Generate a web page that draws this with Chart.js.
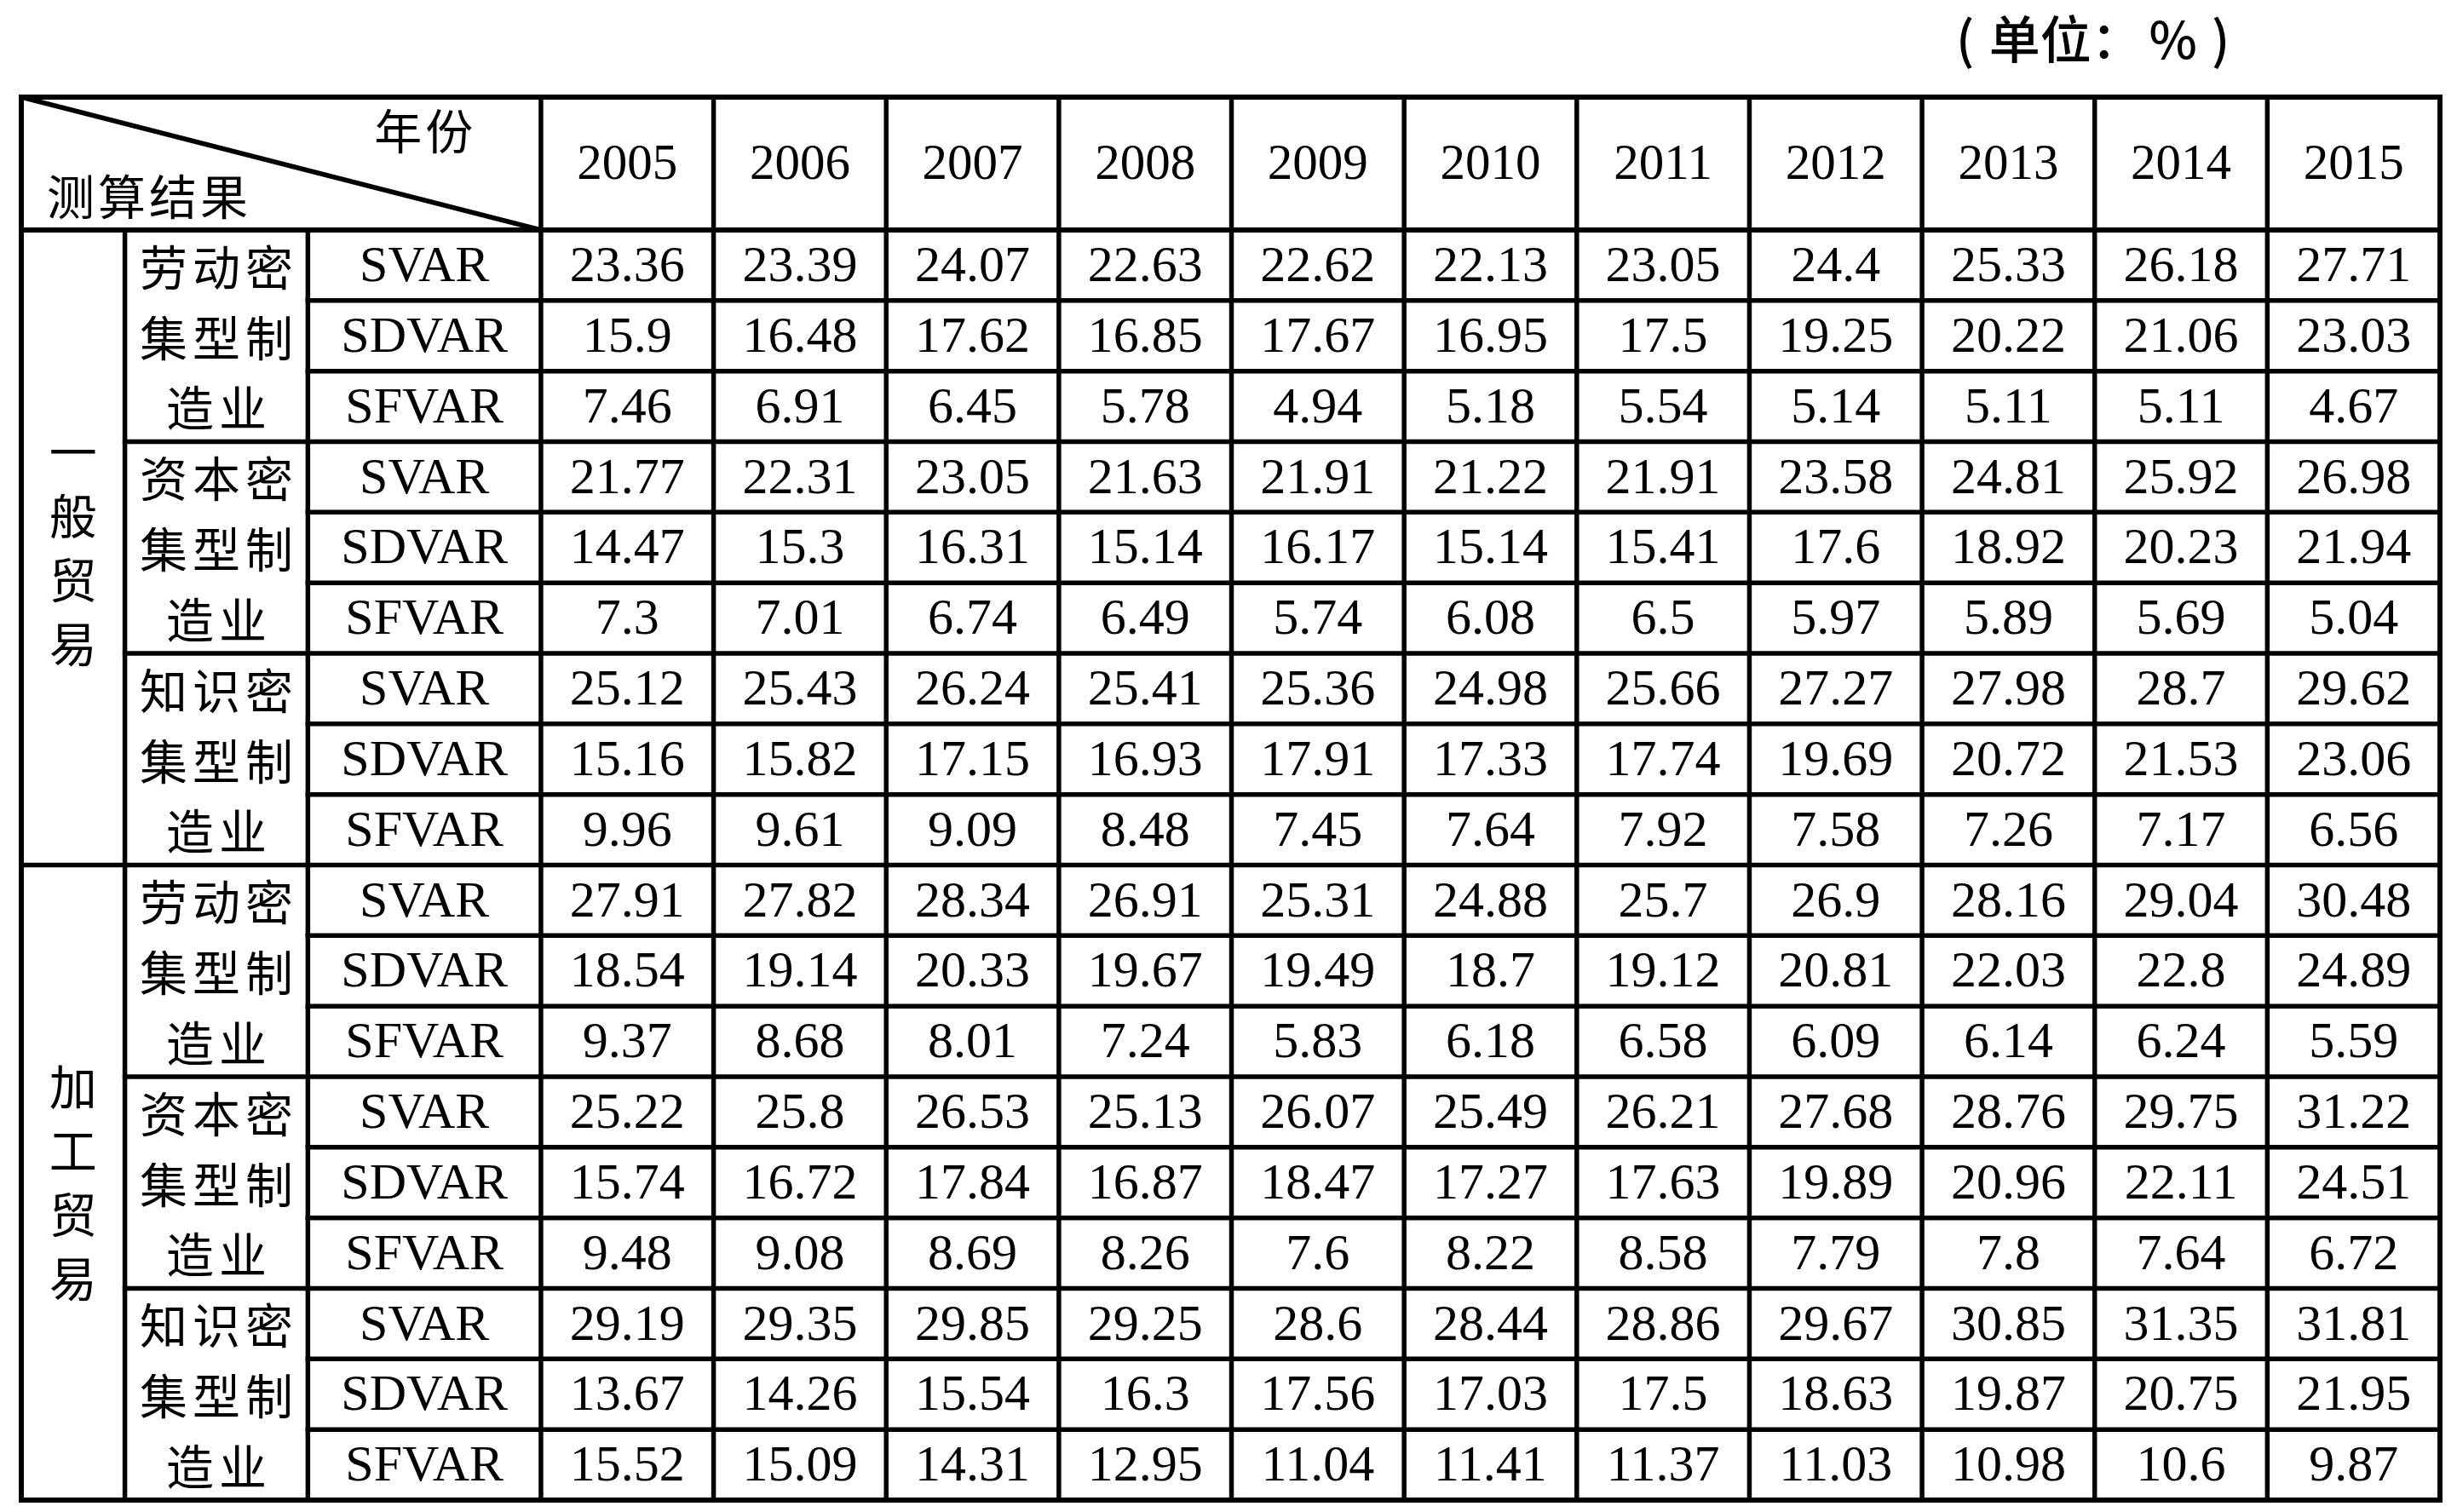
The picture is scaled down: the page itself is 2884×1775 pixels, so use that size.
<!DOCTYPE html>
<html>
<head>
<meta charset="utf-8">
<script src="https://cdn.jsdelivr.net/npm/chart.js@4.4.0/dist/chart.umd.min.js"></script>
<style>
  html, body { margin: 0; padding: 0; background: #fff; }
  canvas { display: block; }
</style>
</head>
<body>
<canvas id="myTable" width="2884" height="1775" style="width:2884px;height:1775px"></canvas>
<script>
// 数据
var years = [2005, 2006, 2007, 2008, 2009, 2010, 2011, 2012, 2013, 2014, 2015];
var trades = ['一般贸易', '加工贸易'];
var industries = ['劳动密集型制造业', '资本密集型制造业', '知识密集型制造业'];
var measures = ['SVAR', 'SDVAR', 'SFVAR'];

// 一般贸易
var genLabourSVAR   = [23.36, 23.39, 24.07, 22.63, 22.62, 22.13, 23.05, 24.4, 25.33, 26.18, 27.71];
var genLabourSDVAR  = [15.9, 16.48, 17.62, 16.85, 17.67, 16.95, 17.5, 19.25, 20.22, 21.06, 23.03];
var genLabourSFVAR  = [7.46, 6.91, 6.45, 5.78, 4.94, 5.18, 5.54, 5.14, 5.11, 5.11, 4.67];
var genCapitalSVAR  = [21.77, 22.31, 23.05, 21.63, 21.91, 21.22, 21.91, 23.58, 24.81, 25.92, 26.98];
var genCapitalSDVAR = [14.47, 15.3, 16.31, 15.14, 16.17, 15.14, 15.41, 17.6, 18.92, 20.23, 21.94];
var genCapitalSFVAR = [7.3, 7.01, 6.74, 6.49, 5.74, 6.08, 6.5, 5.97, 5.89, 5.69, 5.04];
var genKnowSVAR     = [25.12, 25.43, 26.24, 25.41, 25.36, 24.98, 25.66, 27.27, 27.98, 28.7, 29.62];
var genKnowSDVAR    = [15.16, 15.82, 17.15, 16.93, 17.91, 17.33, 17.74, 19.69, 20.72, 21.53, 23.06];
var genKnowSFVAR    = [9.96, 9.61, 9.09, 8.48, 7.45, 7.64, 7.92, 7.58, 7.26, 7.17, 6.56];
// 加工贸易
var procLabourSVAR   = [27.91, 27.82, 28.34, 26.91, 25.31, 24.88, 25.7, 26.9, 28.16, 29.04, 30.48];
var procLabourSDVAR  = [18.54, 19.14, 20.33, 19.67, 19.49, 18.7, 19.12, 20.81, 22.03, 22.8, 24.89];
var procLabourSFVAR  = [9.37, 8.68, 8.01, 7.24, 5.83, 6.18, 6.58, 6.09, 6.14, 6.24, 5.59];
var procCapitalSVAR  = [25.22, 25.8, 26.53, 25.13, 26.07, 25.49, 26.21, 27.68, 28.76, 29.75, 31.22];
var procCapitalSDVAR = [15.74, 16.72, 17.84, 16.87, 18.47, 17.27, 17.63, 19.89, 20.96, 22.11, 24.51];
var procCapitalSFVAR = [9.48, 9.08, 8.69, 8.26, 7.6, 8.22, 8.58, 7.79, 7.8, 7.64, 6.72];
var procKnowSVAR     = [29.19, 29.35, 29.85, 29.25, 28.6, 28.44, 28.86, 29.67, 30.85, 31.35, 31.81];
var procKnowSDVAR    = [13.67, 14.26, 15.54, 16.3, 17.56, 17.03, 17.5, 18.63, 19.87, 20.75, 21.95];
var procKnowSFVAR    = [15.52, 15.09, 14.31, 12.95, 11.04, 11.41, 11.37, 11.03, 10.98, 10.6, 9.87];

var rows = [
  genLabourSVAR, genLabourSDVAR, genLabourSFVAR,
  genCapitalSVAR, genCapitalSDVAR, genCapitalSFVAR,
  genKnowSVAR, genKnowSDVAR, genKnowSFVAR,
  procLabourSVAR, procLabourSDVAR, procLabourSFVAR,
  procCapitalSVAR, procCapitalSDVAR, procCapitalSFVAR,
  procKnowSVAR, procKnowSDVAR, procKnowSFVAR
];

// 版式（以年份为单位的x轴，以行为单位的y轴）
var X_MIN = 2001.49, COL0 = 2002.09, COL1 = 2003.15, COL2 = 2004.5, X_MAX = 2015.5;
var HEAD = -1.883;
var SERIF = '"Liberation Serif", "Times New Roman", serif';
var CJK = '"Noto Sans CJK SC", "Noto Sans", sans-serif';

var datasets = rows.map(function(vals, r){
  return {
    label: measures[r % 3],
    data: vals.map(function(v, i){ return {x: years[i], y: r + 0.5, v: v}; }),
    pointRadius: 0,
    pointHoverRadius: 0,
    showLine: false
  };
});

var tablePlugin = {
  id: 'tableGrid',
  afterDatasetsDraw: function(chart){
    var ctx = chart.ctx, xs = chart.scales.x, ys = chart.scales.y;
    var X = function(v){ return xs.getPixelForValue(v); };
    var Y = function(v){ return ys.getPixelForValue(v); };
    var nRows = rows.length;
    ctx.save();
    ctx.strokeStyle = '#000';
    ctx.fillStyle = '#000';
    ctx.lineCap = 'square';
    function line(x1, y1, x2, y2, w){
      ctx.lineWidth = w || 5.5;
      ctx.beginPath();
      ctx.moveTo(X(x1), Y(y1));
      ctx.lineTo(X(x2), Y(y2));
      ctx.stroke();
    }
    // 横线
    for (var r = 1; r < nRows; r++) {
      var start = COL1;
      if (r % 3 === 0) start = COL0;
      if (r % 9 === 0) start = X_MIN;
      line(start, r, X_MAX, r);
    }
    line(X_MIN, 0, X_MAX, 0, 6);
    // 竖线
    line(COL0, 0, COL0, nRows);
    line(COL1, 0, COL1, nRows);
    for (var k = 0; k < years.length; k++) line(COL2 + k, HEAD, COL2 + k, nRows);
    // 外框
    line(X_MIN, HEAD, X_MAX, HEAD, 6);
    line(X_MIN, nRows, X_MAX, nRows, 6);
    line(X_MIN, HEAD, X_MIN, nRows, 6);
    line(X_MAX, HEAD, X_MAX, nRows, 6);
    // 斜线
    ctx.lineCap = 'butt';
    line(X_MIN, HEAD, COL2, 0, 5.5);

    ctx.textAlign = 'center';
    ctx.textBaseline = 'middle';
    // 表头
    ctx.font = '59px ' + SERIF;
    years.forEach(function(yr){ ctx.fillText(String(yr), X(yr), Y(HEAD / 2) + 3); });
    ctx.font = '56px ' + CJK;
    ctx.letterSpacing = '4px';
    ctx.fillText('年份', X(2003.83), Y(-1.40));
    ctx.fillText('测算结果', X(2002.23), Y(-0.47));

    // 行标签
    ctx.font = '56px ' + CJK;
    ctx.letterSpacing = '6px';
    industries.forEach(function(name, j){
      for (var g = 0; g < trades.length; g++) {
        var base = g * 9 + j * 3;
        var parts = [name.slice(0, 3), name.slice(3, 6), name.slice(6)];
        parts.forEach(function(p, t){
          ctx.fillText(p, X((COL0 + COL1) / 2) + 3, Y(base + t + 0.5) + 2);
        });
      }
    });
    ctx.letterSpacing = '0px';
    trades.forEach(function(name, g){
      var cy = Y(g * 9 + 4.5);
      var step = 75;
      name.split('').forEach(function(ch, t){
        ctx.fillText(ch, X((X_MIN + COL0) / 2), cy + (t - 1.5) * step);
      });
    });

    // 数值
    ctx.font = '60px ' + SERIF;
    chart.data.datasets.forEach(function(ds, r){
      ctx.fillText(ds.label, X((COL1 + COL2) / 2), Y(r + 0.5) + 3);
      var meta = chart.getDatasetMeta(r);
      meta.data.forEach(function(pt, i){
        ctx.fillText(String(ds.data[i].v), pt.x, pt.y + 3);
      });
    });

    // 单位
    var ux = X(2013.5), uy = 46;
    ctx.font = '500 60px ' + CJK;
    ctx.fillText('(', ux - 152, uy);
    ctx.textAlign = 'left';
    ctx.fillText('单位：', ux - 124, uy);
    ctx.textAlign = 'center';
    ctx.fillText('%', ux + 92, uy);
    ctx.fillText(')', ux + 148, uy);
    ctx.restore();
  }
};

var myTable = new Chart(document.getElementById('myTable'), {
  type: 'scatter',
  data: { datasets: datasets },
  options: {
    responsive: false,
    animation: false,
    devicePixelRatio: 1,
    layout: { padding: { left: 25, right: 20, top: 114, bottom: 14 } },
    plugins: { legend: { display: false }, tooltip: { enabled: false }, title: { display: false } },
    scales: {
      x: { type: 'linear', display: false, min: X_MIN, max: X_MAX },
      y: { type: 'linear', display: false, min: HEAD, max: rows.length, reverse: true }
    }
  },
  plugins: [tablePlugin]
});
</script>
</body>
</html>
